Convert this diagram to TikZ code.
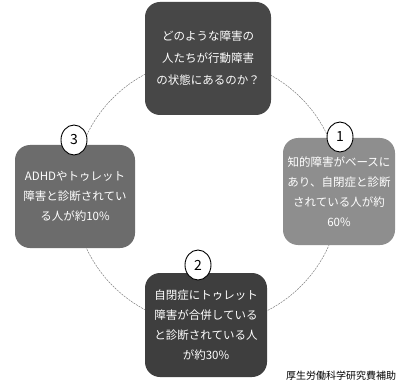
\documentclass[tikz,border=0pt]{standalone}
\usepackage{fontspec}
\setmainfont{Noto Sans CJK JP}
\usetikzlibrary{shapes.geometric}
\definecolor{boxtop}{HTML}{474747}
\definecolor{boxone}{HTML}{8E8E8E}
\definecolor{boxthree}{HTML}{6C6C6C}
\definecolor{boxtwo}{HTML}{3E3E3E}
\tikzset{
  card/.style={rounded corners=15pt, inner sep=0pt, text=white, align=center,
    font=\fontsize{11.5}{20}\selectfont},
  numtag/.style={ellipse, draw=black, line width=0.9pt, fill=white, inner sep=0pt,
    minimum width=26pt, minimum height=30pt, font=\fontsize{14}{14}\selectfont},
  ring/.style={gray, line width=0.5pt, dash pattern=on 2pt off 1pt},
}
\begin{document}
\begin{tikzpicture}[x=1pt,y=-1pt]
\useasboundingbox (0,0) rectangle (398,382);
\clip (0,0) rectangle (398,382);
\fill[white] (0,0) rectangle (398,382);
\coordinate (center) at (207,192);
\draw[ring] (center) circle[radius=133pt];
\node[card, fill=boxtop, minimum width=126pt, minimum height=113pt,
  font=\fontsize{11.5}{22}\selectfont] (top) at (208,58.5)
  {どのような障害の\\人たちが行動障害\\の状態にあるのか？};
\node[card, fill=boxone, minimum width=112pt, minimum height=107pt] (one) at (339,191.5)
  {知的障害がベースに\\あり、自閉症と診断\\されている人が約\\60\%};
\node[card, fill=boxthree, minimum width=120pt, minimum height=103pt] (three) at (75,196.5)
  {ADHDやトゥレット\\障害と診断されてい\\る人が約10\%};
\node[card, fill=boxtwo, minimum width=122pt, minimum height=104pt] (two) at (206,325)
  {自閉症にトゥレット\\障害が合併している\\と診断されている人\\が約30\%};
\node[numtag] (n1) at (340,137) {1};
\node[numtag] (n2) at (198,265) {2};
\node[numtag] (n3) at (74,140) {3};
\node[anchor=west, inner sep=0pt, font=\fontsize{10}{10}\selectfont] (src) at (286,375.5)
  {厚生労働科学研究費補助};
\end{tikzpicture}
\end{document}
